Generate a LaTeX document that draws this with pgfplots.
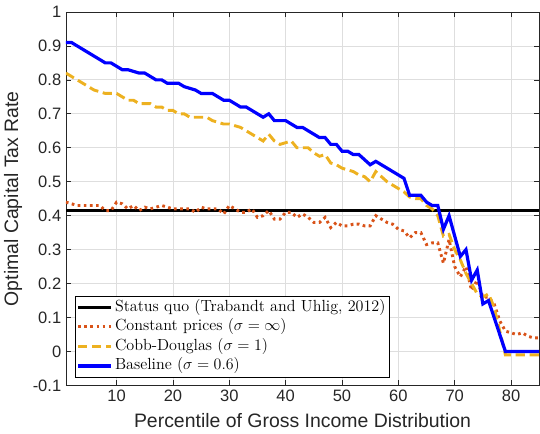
\documentclass[border=0pt]{standalone}
\usepackage{fontspec}
\newfontfamily\hv{Liberation Sans}
\usepackage{pgfplots}
\pgfplotsset{compat=1.18}

\definecolor{mblue}{rgb}{0,0,1}
\definecolor{mred}{rgb}{0.85,0.325,0.098}
\definecolor{myellow}{rgb}{0.929,0.694,0.125}
\definecolor{maxis}{rgb}{0.15,0.15,0.15}

\begin{document}
\begin{tikzpicture}
\begin{axis}[
    name=ax,
    scale only axis,
    width=355.5pt,
    height=280.5pt,
    xmin=1, xmax=85,
    ymin=-0.1, ymax=1,
    xtick={10,20,30,40,50,60,70,80},
    xticklabels={10,20,30,40,50,60,70,80},
    ytick={-0.1,0,0.1,0.2,0.3,0.4,0.5,0.6,0.7,0.8,0.9,1},
    yticklabels={-0.1,0,0.1,0.2,0.3,0.4,0.5,0.6,0.7,0.8,0.9,1},
    tick align=inside,
    tick pos=both,
    major tick length=3.8pt,
    tick style={maxis, line width=0.5pt},
    axis line style={maxis, line width=0.6pt},
    grid=major,
    grid style={black!13, line width=0.6pt},
    tick label style={font=\hv\fontsize{12.4}{14}\selectfont, text=maxis},
    label style={font=\hv\fontsize{14.6}{17}\selectfont, text=maxis},
    xlabel={Percentile of Gross Income Distribution},
    xlabel style={yshift=-2pt},
    ylabel={Optimal Capital Tax Rate},
    ylabel style={yshift=1pt},
    legend cell align=left,
    legend style={
        at={(0.019,0.0214)}, anchor=south west,
        draw=black, line width=0.5pt, fill=white,
        font=\fontsize{12.1}{14}\selectfont,
        inner sep=1pt,
        nodes={inner sep=1.5pt, text height=8.7pt, text depth=3pt},
        /tikz/every even column/.append style={column sep=2pt},
    },
    legend image code/.code={\draw[#1] (0pt,0pt) -- (25pt,0pt);},
]

\addplot[black, line width=2.2pt] coordinates {(1,0.415) (85,0.415)};
\addlegendentry{Status quo (Trabandt and Uhlig, 2012)}

\addplot[mred, line width=2.2pt, dash pattern=on 2pt off 2.6pt] coordinates {
(1,0.44) (2,0.435) (3,0.43) (4,0.43) (5,0.43) (6,0.43) (7,0.43) (8,0.415) (9,0.415) (10,0.44)
(11,0.435) (12,0.42) (13,0.43) (14,0.415) (15,0.425) (16,0.42) (17,0.425) (18,0.43) (19,0.425) (20,0.42)
(21,0.42) (22,0.42) (23,0.42) (24,0.41) (25,0.425) (26,0.42) (27,0.42) (28,0.42) (29,0.405) (30,0.43)
(31,0.42) (32,0.41) (33,0.41) (34,0.42) (35,0.395) (36,0.40) (37,0.415) (38,0.39) (39,0.39) (40,0.41)
(41,0.41) (42,0.395) (43,0.405) (44,0.395) (45,0.38) (46,0.38) (47,0.395) (48,0.365) (49,0.38) (50,0.37)
(51,0.37) (52,0.375) (53,0.375) (54,0.37) (55,0.37) (56,0.40) (57,0.39) (58,0.38) (59,0.375) (60,0.36)
(61,0.355) (62,0.335) (63,0.35) (64,0.35) (65,0.315) (66,0.32) (67,0.32) (68,0.26) (69,0.33) (70,0.25)
(71,0.22) (72,0.25) (73,0.18) (74,0.21) (75,0.16) (76,0.16) (77,0.14) (78,0.09) (79,0.06) (80,0.055)
(81,0.05) (82,0.055) (83,0.045) (84,0.04) (85,0.04)};
\addlegendentry{Constant prices ($\sigma=\infty$)}

\addplot[myellow, line width=2.2pt, dash pattern=on 7pt off 3.5pt] coordinates {
(1,0.82) (2,0.81) (3,0.80) (4,0.79) (5,0.78) (6,0.77) (7,0.765) (8,0.76) (9,0.76) (10,0.76)
(11,0.75) (12,0.74) (13,0.74) (14,0.73) (15,0.73) (16,0.73) (17,0.72) (18,0.72) (19,0.71) (20,0.71)
(21,0.70) (22,0.70) (23,0.69) (24,0.69) (25,0.69) (26,0.69) (27,0.68) (28,0.675) (29,0.67) (30,0.67)
(31,0.665) (32,0.66) (33,0.65) (34,0.64) (35,0.63) (36,0.62) (37,0.64) (38,0.62) (39,0.61) (40,0.615)
(41,0.62) (42,0.60) (43,0.60) (44,0.60) (45,0.585) (46,0.575) (47,0.58) (48,0.555) (49,0.55) (50,0.54)
(51,0.535) (52,0.53) (53,0.52) (54,0.515) (55,0.50) (56,0.53) (57,0.515) (58,0.50) (59,0.49) (60,0.48)
(61,0.47) (62,0.455) (63,0.45) (64,0.45) (65,0.43) (66,0.42) (67,0.40) (68,0.34) (69,0.345) (70,0.30)
(71,0.27) (72,0.23) (73,0.20) (74,0.17) (75,0.16) (76,0.17) (77,0.13) (78,0.06) (79,-0.01) (80,-0.01)
(81,-0.01) (82,-0.01) (83,-0.01) (84,-0.01) (85,-0.01)};
\addlegendentry{Cobb-Douglas ($\sigma=1$)}

\addplot[mblue, line width=2.4pt] coordinates {
(1,0.91) (2,0.91) (3,0.90) (4,0.89) (5,0.88) (6,0.87) (7,0.86) (8,0.85) (9,0.85) (10,0.84)
(11,0.83) (12,0.83) (13,0.825) (14,0.82) (15,0.82) (16,0.81) (17,0.80) (18,0.80) (19,0.79) (20,0.79)
(21,0.79) (22,0.78) (23,0.775) (24,0.77) (25,0.76) (26,0.76) (27,0.76) (28,0.75) (29,0.74) (30,0.74)
(31,0.73) (32,0.72) (33,0.72) (34,0.71) (35,0.70) (36,0.69) (37,0.70) (38,0.68) (39,0.68) (40,0.68)
(41,0.67) (42,0.66) (43,0.66) (44,0.65) (45,0.64) (46,0.63) (47,0.63) (48,0.61) (49,0.61) (50,0.59)
(51,0.59) (52,0.58) (53,0.58) (54,0.565) (55,0.55) (56,0.56) (57,0.55) (58,0.54) (59,0.53) (60,0.52)
(61,0.51) (62,0.46) (63,0.46) (64,0.46) (65,0.44) (66,0.43) (67,0.43) (68,0.36) (69,0.40) (70,0.34)
(71,0.28) (72,0.30) (73,0.21) (74,0.24) (75,0.14) (76,0.15) (77,0.10) (78,0.05) (79,0.00) (80,0.00)
(81,0.00) (82,0.00) (83,0.00) (84,0.00) (85,0.00)};
\addlegendentry{Baseline ($\sigma=0.6$)}

\end{axis}
\pgfresetboundingbox
\path ([shift={(-49.5pt,-36pt)}]ax.south west) rectangle ([shift={(0.6pt,9pt)}]ax.north east);
\end{tikzpicture}
\end{document}
